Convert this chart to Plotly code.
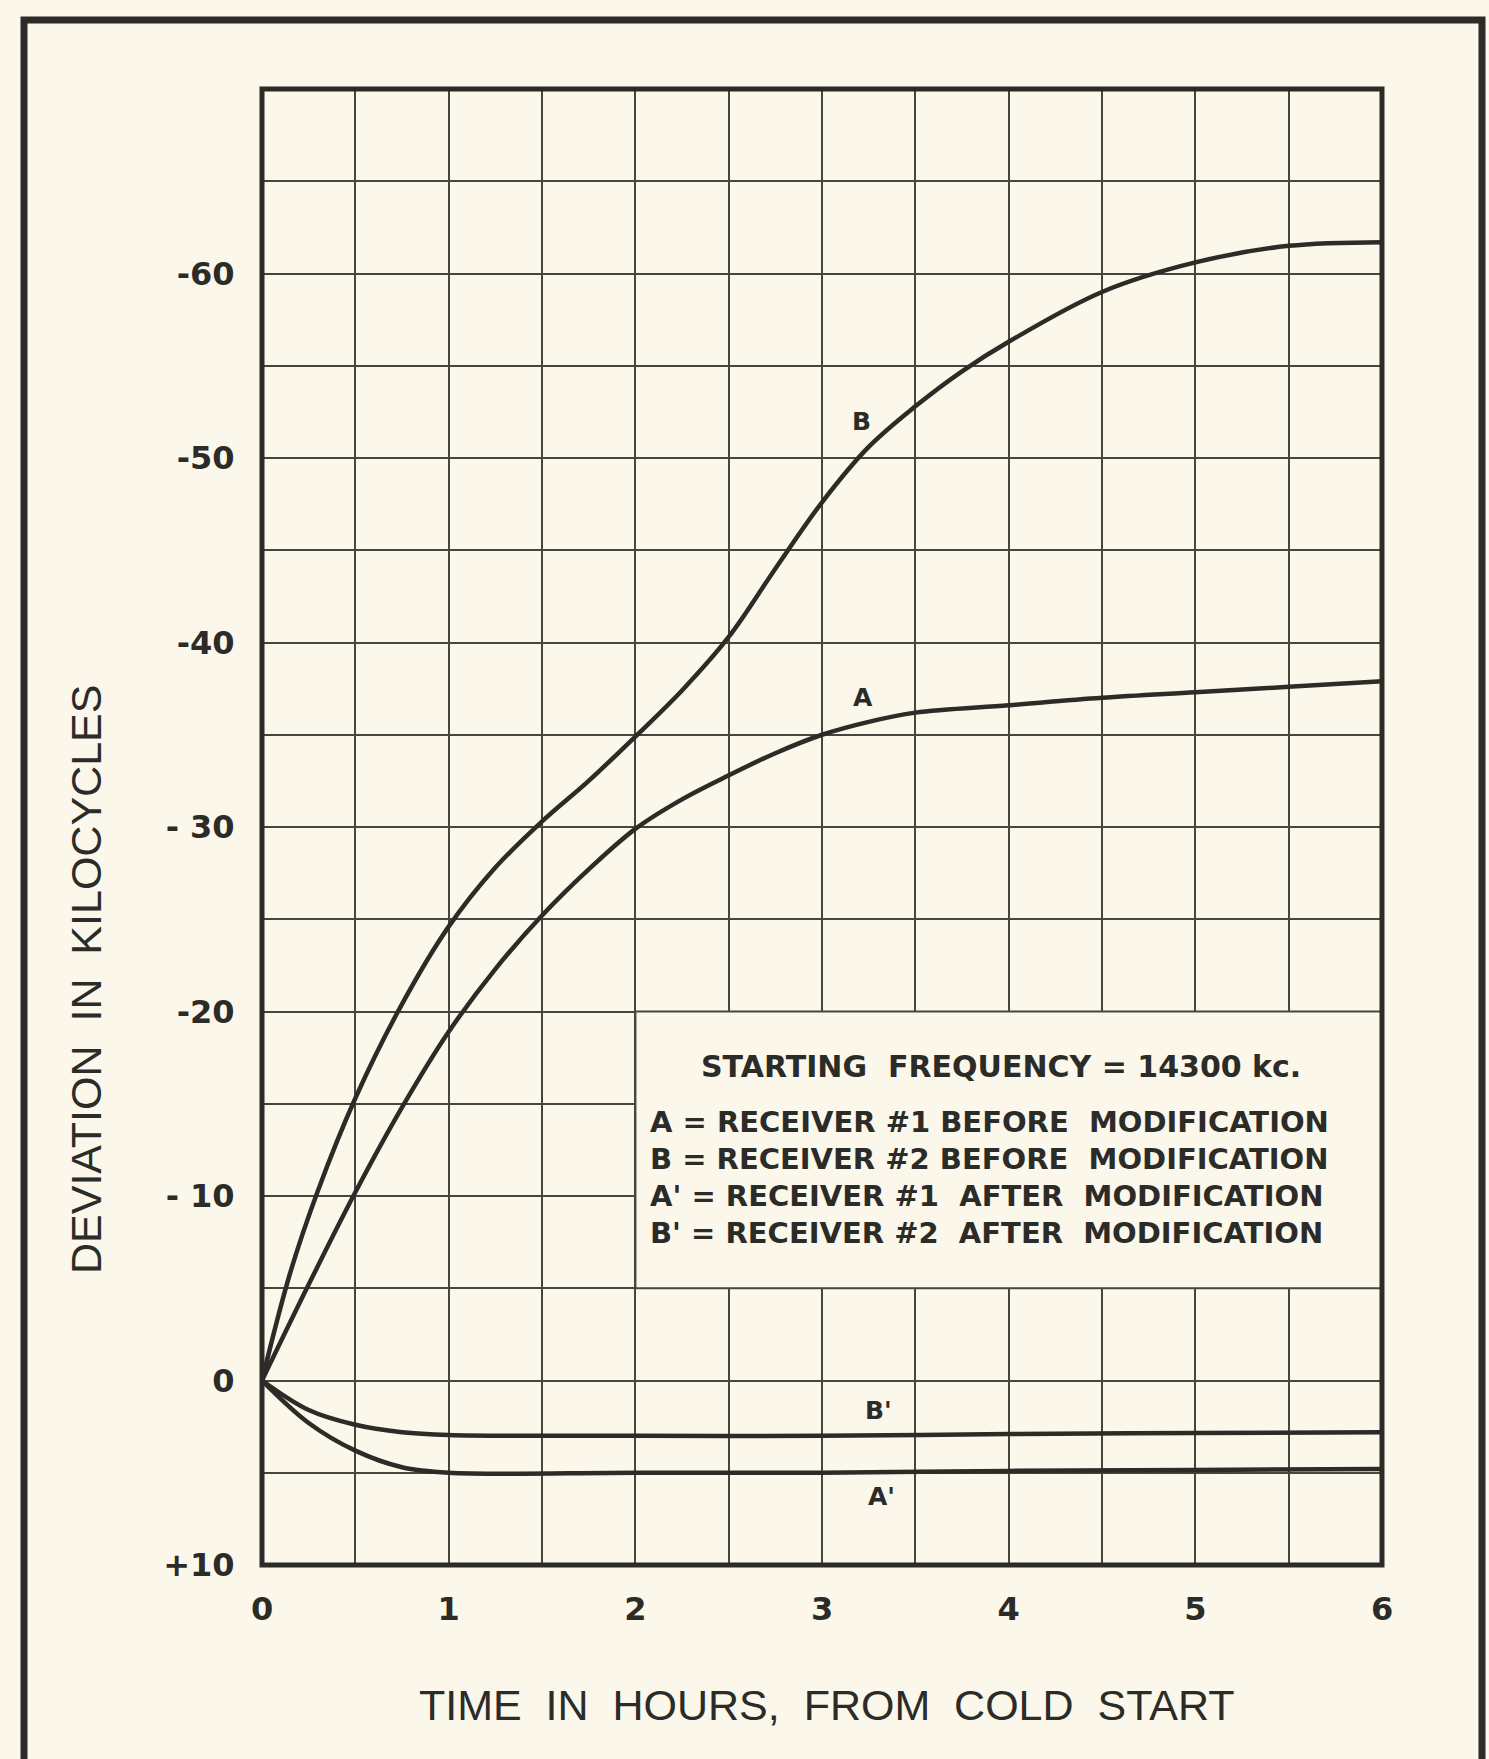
import plotly.graph_objects as go

# ---------------- data ----------------
hours_B = [0, 0.15, 0.3, 0.5, 0.75, 1.0, 1.25, 1.5, 1.75, 2.0, 2.25, 2.5, 2.75, 3.0, 3.25, 3.5, 3.75, 4.0, 4.5, 5.0, 5.5, 6.0]
dev_B = [0, -5.8, -10.3, -15.3, -20.4, -24.6, -27.8, -30.3, -32.5, -34.9, -37.4, -40.3, -44.0, -47.6, -50.6, -52.8, -54.7, -56.3, -59.0, -60.6, -61.5, -61.7]

hours_A = [0, 0.25, 0.5, 0.75, 1.0, 1.25, 1.5, 1.75, 2.0, 2.25, 2.5, 2.75, 3.0, 3.25, 3.5, 4.0, 4.5, 5.0, 5.5, 6.0]
dev_A = [0, -5.2, -10.2, -14.8, -18.9, -22.3, -25.2, -27.7, -29.9, -31.5, -32.8, -34.0, -35.0, -35.7, -36.2, -36.6, -37.0, -37.3, -37.6, -37.9]

hours_Bp = [0, 0.25, 0.5, 0.75, 1.0, 2.0, 3.0, 4.0, 5.0, 6.0]
dev_Bp = [0, 1.6, 2.4, 2.8, 2.95, 3.0, 3.0, 2.9, 2.85, 2.8]

hours_Ap = [0, 0.25, 0.5, 0.75, 1.0, 2.0, 3.0, 4.0, 5.0, 6.0]
dev_Ap = [0, 2.3, 3.8, 4.7, 5.0, 5.0, 5.0, 4.9, 4.85, 4.8]

x_tick_vals = [0, 0.5, 1, 1.5, 2, 2.5, 3, 3.5, 4, 4.5, 5, 5.5, 6]
x_tick_text = ["0", "", "1", "", "2", "", "3", "", "4", "", "5", "", "6"]
y_tick_vals = [-70, -65, -60, -55, -50, -45, -40, -35, -30, -25, -20, -15, -10, -5, 0, 5, 10]
y_tick_text = ["", "", "-60", "", "-50", "", "-40", "", "- 30", "", "-20", "", "- 10", "", "0", "", "+10"]

curve_labels = ["B", "A", "B'", "A'"]
label_x = [3.21, 3.22, 3.3, 3.32]
label_y = [-52.0, -37.0, 1.6, 6.3]

NB = "\u00a0"
key_title = f"STARTING{NB}{NB}FREQUENCY = 14300 kc."
key_lines = [
    f"A = RECEIVER #1 BEFORE{NB}{NB}MODIFICATION",
    f"B = RECEIVER #2 BEFORE{NB}{NB}MODIFICATION",
    f"A' = RECEIVER #1{NB}{NB}AFTER{NB}{NB}MODIFICATION",
    f"B' = RECEIVER #2{NB}{NB}AFTER{NB}{NB}MODIFICATION",
]
key_line_y = [-14.0, -12.0, -10.0, -8.0]

# ---------------- style ----------------
BG = "#fbf7ea"
INK = "#2b2b28"
GRID = "#46453f"
W, H = 1489, 1759
L, R, T, B = 262, 107, 89, 194
PW, PH = W - L - R, H - T - B


def px(x):
    return (x - L) / PW


def py(y):
    return (H - B - y) / PH


fig = go.Figure()
for xs, ys in [(hours_B, dev_B), (hours_A, dev_A), (hours_Bp, dev_Bp), (hours_Ap, dev_Ap)]:
    fig.add_trace(go.Scatter(
        x=xs, y=ys, mode="lines",
        line=dict(color=INK, width=4.5, shape="spline", smoothing=1.0),
        hoverinfo="skip", showlegend=False,
    ))

tickfont = dict(family="DejaVu Sans", size=32, color=INK, weight="bold")
fig.update_xaxes(
    range=[0, 6], tickmode="array", tickvals=x_tick_vals, ticktext=x_tick_text,
    showgrid=True, gridcolor=GRID, gridwidth=2.2, zeroline=False, showline=False,
    ticks="outside", ticklen=16, tickcolor="rgba(0,0,0,0)", tickfont=tickfont,
)
fig.update_yaxes(
    range=[10, -70], tickmode="array", tickvals=y_tick_vals, ticktext=y_tick_text,
    showgrid=True, gridcolor=GRID, gridwidth=2.2, zeroline=False, showline=False,
    ticks="outside", ticklen=20, tickcolor="rgba(0,0,0,0)", tickfont=tickfont,
)

shapes = [
    # blank key area (covers grid)
    dict(type="rect", xref="x", yref="y", x0=2, x1=6, y0=-20, y1=-5,
         fillcolor=BG, line=dict(color=GRID, width=2.2), layer="above"),
    # plot border
    dict(type="rect", xref="paper", yref="paper", x0=0, x1=1, y0=0, y1=1,
         line=dict(color=INK, width=5), layer="above"),
    # outer frame
    dict(type="path", xref="paper", yref="paper",
         path=f"M {px(24)},{py(1790)} L {px(24)},{py(20)} L {px(1482)},{py(20)} L {px(1482)},{py(1790)}",
         line=dict(color=INK, width=7), layer="above"),
]

ann = []
for t, x, y in zip(curve_labels, label_x, label_y):
    ann.append(dict(text=t, x=x, y=y, xref="x", yref="y", showarrow=False,
                    font=dict(family="DejaVu Sans", size=25, color=INK, weight="bold")))
ann.append(dict(text=key_title, x=3.96, y=-17.0, xref="x", yref="y", showarrow=False,
                xanchor="center", yanchor="middle",
                font=dict(family="DejaVu Sans", size=30, color=INK, weight="bold")))
for t, y in zip(key_lines, key_line_y):
    ann.append(dict(text=t, x=2.07, y=y, xref="x", yref="y", xanchor="left", yanchor="middle",
                    showarrow=False,
                    font=dict(family="DejaVu Sans", size=29, color=INK, weight="bold")))
ann.append(dict(text=f"TIME{NB}{NB}IN{NB}{NB}HOURS,{NB}{NB}FROM{NB}{NB}COLD{NB}{NB}START",
                x=px(826), y=py(1705), xref="paper", yref="paper", showarrow=False,
                xanchor="center", yanchor="middle",
                font=dict(family="Liberation Sans", size=43, color=INK)))
ann.append(dict(text=f"DEVIATION{NB}{NB}IN{NB}{NB}KILOCYCLES", textangle=-90,
                x=px(86), y=py(980), xref="paper", yref="paper", showarrow=False,
                xanchor="center", yanchor="middle",
                font=dict(family="Liberation Sans", size=43, color=INK)))

fig.update_layout(
    width=W, height=H, autosize=False,
    margin=dict(l=L, r=R, t=T, b=B, pad=0),
    paper_bgcolor=BG, plot_bgcolor=BG,
    shapes=shapes, annotations=ann, showlegend=False,
)

fig.write_html(
    "out.html",
    config={"displayModeBar": False},
    post_script=f"document.body.style.margin='0';document.body.style.background='{BG}';",
)
